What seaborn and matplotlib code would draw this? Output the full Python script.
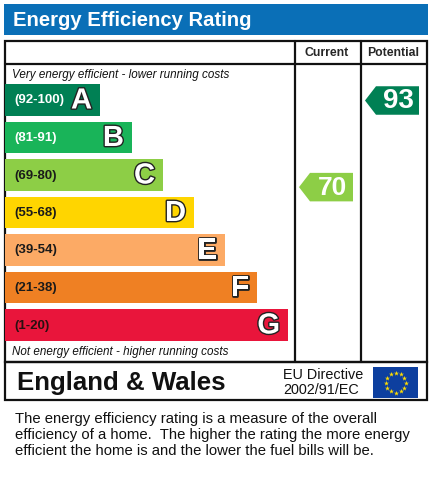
import matplotlib
matplotlib.use("Agg")
import matplotlib.pyplot as plt
import matplotlib.patheffects as pe
from matplotlib.patches import Polygon, Rectangle
import seaborn as sns
import pandas as pd
import numpy as np

# ---- data ----
bands = ["A", "B", "C", "D", "E", "F", "G"]
band_ranges = ["(92-100)", "(81-91)", "(69-80)", "(55-68)", "(39-54)", "(21-38)", "(1-20)"]
bar_lengths = [95, 127, 158, 189, 220, 252, 283]
band_colors = ["#008054", "#19b459", "#8dce46", "#ffd500", "#fcaa65", "#ef8023", "#e9153b"]
range_text_colors = ["white", "white", "#1a1a1a", "#1a1a1a", "#1a1a1a", "#1a1a1a", "#2a1010"]
current_rating = 70
potential_rating = 93
current_band = "C"
potential_band = "A"
title = "Energy Efficiency Rating"
col_headers = ["Current", "Potential"]
top_note = "Very energy efficient - lower running costs"
bottom_note = "Not energy efficient - higher running costs"
region = "England & Wales"
directive = ["EU Directive", "2002/91/EC"]
footer = ("The energy efficiency rating is a measure of the overall\n"
          "efficiency of a home.  The higher the rating the more energy\n"
          "efficient the home is and the lower the fuel bills will be.")

sns.set_theme(style="white")
plt.rcParams["font.family"] = ["Liberation Sans", "DejaVu Sans"]

fig = plt.figure(figsize=(4.32, 4.8), dpi=100)
fig.patch.set_facecolor("white")

# background axes in pixel coordinates
bg = fig.add_axes([0, 0, 1, 1])
bg.set_xlim(0, 432)
bg.set_ylim(480, 0)
bg.axis("off")

blue = "#0a6fb7"
bg.add_patch(Rectangle((4, 4), 424, 31, facecolor=blue, edgecolor="none"))
bg.text(13, 20, title, color="white", fontsize=14.6, weight="bold", va="center", ha="left")

lw = 1.6
bg.add_patch(Rectangle((4.5, 41), 422.5, 321, fill=False, edgecolor="#111111", lw=lw))
bg.add_patch(Rectangle((4.5, 362), 422.5, 38, fill=False, edgecolor="#111111", lw=lw))
bg.plot([4.5, 427], [64, 64], color="#111111", lw=lw)
bg.plot([295, 295], [41, 362], color="#111111", lw=lw)
bg.plot([361, 361], [41, 362], color="#111111", lw=lw)

bg.text(327, 53, col_headers[0], fontsize=8.8, weight="bold", ha="center", va="center")
bg.text(393.5, 53, col_headers[1], fontsize=8.8, weight="bold", ha="center", va="center")

bg.text(12, 75, top_note, fontsize=8.4, style="italic", ha="left", va="center", color="#111111")
bg.text(12, 352, bottom_note, fontsize=8.4, style="italic", ha="left", va="center", color="#111111")

bg.text(17, 383, region, fontsize=18.6, weight="bold", ha="left", va="center", color="#111111")
bg.text(283, 375, directive[0], fontsize=10.4, ha="left", va="center", color="#111111")
bg.text(283, 390, directive[1], fontsize=10.4, ha="left", va="center", color="#111111")

# EU flag
bg.add_patch(Rectangle((373, 367), 45, 31, facecolor="#0d3f9f", edgecolor="none"))
ang = np.linspace(0, 2 * np.pi, 12, endpoint=False)
bg.scatter(395.5 + 10 * np.cos(ang), 382.5 + 10 * np.sin(ang), marker="*", s=14,
           color="#ffdd00", linewidths=0, zorder=3)

bg.text(15, 435, footer, fontsize=10.75, ha="left", va="center", linespacing=1.14, color="#111111")

# bar axes: x in pixels from bar start, y in band rows
ax = fig.add_axes([5 / 432, 1 - 343.5 / 480, 422 / 432, 262.5 / 480])
ax.patch.set_visible(False)
df = pd.DataFrame({"band": bands, "length": bar_lengths})
sns.barplot(data=df, x="length", y="band", hue="band", palette=band_colors, order=bands,
            hue_order=bands, width=0.84, saturation=1, legend=False, orient="h",
            linewidth=0, ax=ax)
ax.set_xlim(0, 422)
ax.set_ylim(6.5, -0.5)
ax.axis("off")

for i, (b, r, L, tc) in enumerate(zip(bands, band_ranges, bar_lengths, range_text_colors)):
    ax.text(9, i + 0.02, r, fontsize=9.5, weight="bold", color=tc, ha="left", va="center")
    ax.text(L - 8, i + 0.02, b, fontsize=21, weight="bold", color="white", ha="right",
            va="center", path_effects=[pe.withStroke(linewidth=2, foreground="#222222")])


def arrow(x0, x1, yc, color, value, fs):
    h = 0.38
    notch = 11
    pts = [(x0, yc), (x0 + notch, yc - h), (x1, yc - h), (x1, yc + h), (x0 + notch, yc + h)]
    ax.add_patch(Polygon(pts, closed=True, facecolor=color, edgecolor="none", zorder=3))
    ax.text((x0 + notch + x1) / 2 + 1, yc + 0.02, str(value), fontsize=fs, weight="bold",
            color="white", ha="center", va="center", zorder=4)


cur_row = bands.index(current_band)
pot_row = bands.index(potential_band)
arrow(294, 348, cur_row + 0.33, band_colors[cur_row], current_rating, 19)
arrow(360, 414, pot_row + 0.02, band_colors[pot_row], potential_rating, 20)

fig.savefig("out.png", dpi=100, facecolor="white")
